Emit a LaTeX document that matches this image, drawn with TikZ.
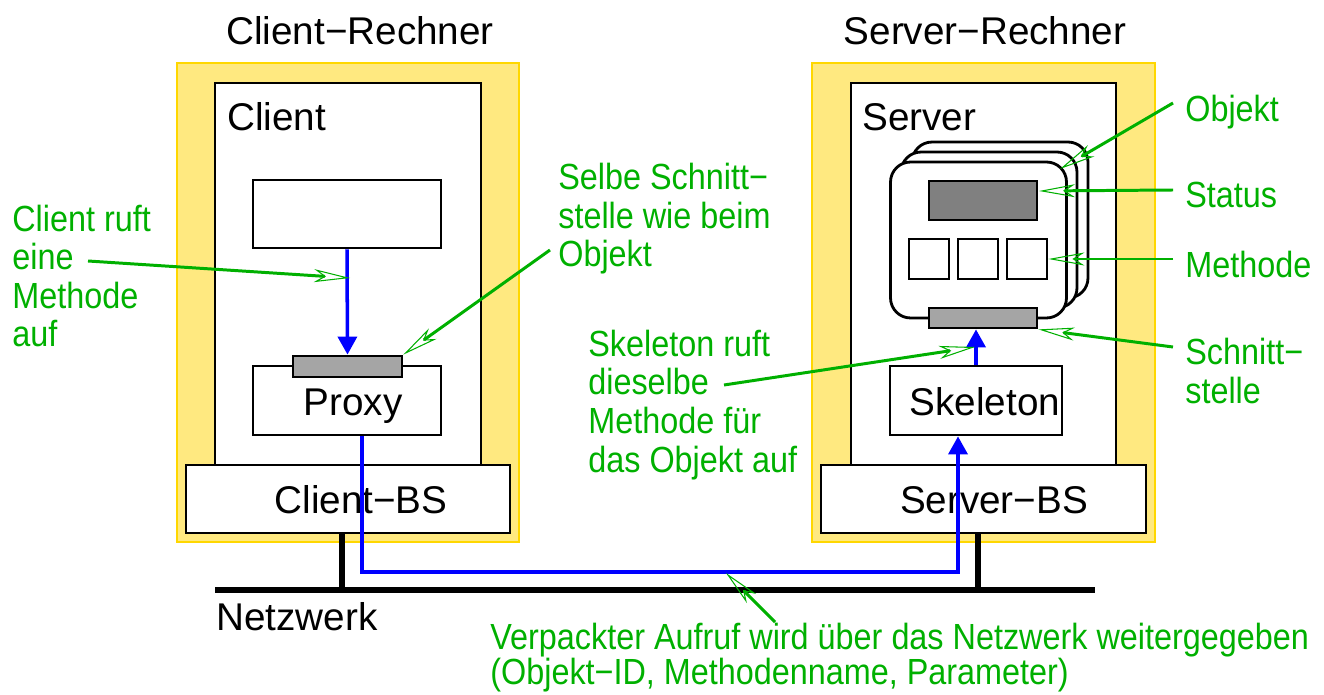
\documentclass[tikz,border=0pt]{standalone}
\usepackage{fontspec}
\setmainfont{Liberation Sans}
\newfontfamily\narrowsans[FakeStretch=0.89]{Liberation Sans}
\usetikzlibrary{arrows.meta}
\usetikzlibrary{positioning}

\definecolor{hostyellow}{RGB}{255,233,128}
\definecolor{hostedge}{RGB}{255,215,0}
\definecolor{notegreen}{RGB}{0,176,0}
\definecolor{darkgrey}{RGB}{128,128,128}
\definecolor{lightgrey}{RGB}{165,165,165}

\tikzset{
  host/.style={draw=hostedge,fill=hostyellow,line width=0.8pt,inner sep=0pt},
  box/.style={draw,fill=white,line width=1.6pt,inner sep=0pt},
  plate/.style={box,fill=lightgrey},
  objbox/.style={box,rounded corners=0.4cm,minimum width=3.52cm,minimum height=3.12cm},
  lan/.style={line width=3.2pt},
  call/.style={blue,line width=2pt,-{Triangle[length=0.36cm,width=0.38cm]}},
  note/.style={notegreen,line width=1.7pt,-{Stealth[open,length=0.72cm,width=0.26cm,inset=0.2cm,line width=0.6pt]}},
  notetext/.style={text=notegreen,font=\narrowsans\fontsize{20.7}{22}\selectfont,anchor=base west,align=left,inner sep=0pt},
  boxtext/.style={font=\fontsize{22}{26}\selectfont,anchor=base,inner sep=0pt}
}

\begin{document}
\begin{tikzpicture}[x=0.02cm,y=-0.02cm]
\useasboundingbox (0,0) rectangle (1324,695);

% client side
\node[host,minimum width=6.84cm,minimum height=9.58cm] (chost) at (348,302.5) {};
\node[box,minimum width=5.32cm,minimum height=7.64cm] (cproc) at (348,274) {};
\node[box,minimum width=6.48cm,minimum height=1.36cm] (cbs) at (348,499) {};
\node[box,minimum width=3.76cm,minimum height=1.36cm] (caller) at (347,214) {};
\node[box,minimum width=3.76cm,minimum height=1.38cm] (proxy) at (347,400.5) {};
\node[plate,minimum width=2.18cm,minimum height=0.42cm] (pif) at (347.5,366.5) {};

% server side
\node[host,minimum width=6.86cm,minimum height=9.58cm] (shost) at (983.5,302.5) {};
\node[box,minimum width=5.30cm,minimum height=7.64cm] (sproc) at (983.5,274) {};
\node[box,minimum width=6.50cm,minimum height=1.36cm] (sbs) at (983.5,499) {};
\node[objbox] (obj3) at (1000,220) {};
\node[objbox] (obj2) at (989,230) {};
\node[objbox] (obj1) at (978.5,240) {};
\node[box,fill=darkgrey,minimum width=2.16cm,minimum height=0.78cm] (status) at (983,200.5) {};
\foreach \i/\x in {1/929,2/978,3/1027}
  \node[box,minimum size=0.8cm] (m\i) at (\x,259) {};
\node[plate,minimum width=2.16cm,minimum height=0.40cm] (sif) at (983,318) {};
\node[box,minimum width=3.44cm,minimum height=1.38cm] (skel) at (976,400.5) {};

% texts
\node[boxtext] (cname) at (360,45) {Client−Rechner};
\node[boxtext] (sname) at (985,45) {Server−Rechner};
\node[boxtext,anchor=base west] (ctitle) at (227,131) {Client};
\node[boxtext,anchor=base west] (stitle) at (862,131) {Server};
\node[boxtext] (ptext) at (353,416) {Proxy};
\node[boxtext] (sktext) at (985,416) {Skeleton};
\node[boxtext] (cbstext) at (361,513) {Client−BS};
\node[boxtext] (sbstext) at (994,513) {Server−BS};
\node[boxtext,anchor=base west] (nettext) at (216,630) {Netzwerk};

% network
\coordinate (netw) at (215,590);
\coordinate (nete) at (1095,590);
\coordinate (cjoin) at (342,590);
\coordinate (sjoin) at (978,590);
\draw[lan] (netw) -- (nete);
\draw[lan] (cbs.south -| cjoin) -- (cjoin);
\draw[lan] (sbs.south -| sjoin) -- (sjoin);

% calls
\coordinate (wirea) at (362,572);
\coordinate (wireb) at (958,572);
\draw[call] (caller.south) -- (pif.north);
\draw[call] (proxy.south -| wirea) -- (wirea) -- (wireb) -- (skel.south -| wireb);
\draw[call] (skel.north) -- (skel.north |- sif.south);

% notes (base = last line)
\node[notetext] (ncall) at (12,347) {Client ruft\\eine\\Methode\\auf};
\node[notetext] (nsame) at (558,267) {Selbe Schnitt−\\stelle wie beim\\Objekt};
\node[notetext] (nskel) at (588,472) {Skeleton ruft\\dieselbe\\Methode für\\das Objekt auf};
\node[notetext] (nobj) at (1185,122) {Objekt};
\node[notetext] (nstat) at (1185,208) {Status};
\node[notetext] (nmeth) at (1185,278) {Methode};
\node[notetext] (nif) at (1185,403) {Schnitt−\\stelle};
\node[notetext,font=\narrowsans\fontsize{20.7}{19.8}\selectfont] (nwire) at (490,684)
  {Verpackter Aufruf wird über das Netzwerk weitergegeben\\(Objekt−ID, Methodenname, Parameter)};

\coordinate (scall) at (88,261);
\coordinate (tcall) at (350,278);
\coordinate (ssame) at (550,250);
\coordinate (sskel) at (724,385);
\coordinate (tskel) at (975,347);
\coordinate (sobj) at (1173,103);
\coordinate (tobj) at (1060,169);
\coordinate (sstat) at (1173,190);
\coordinate (tstat) at (1039,191);
\coordinate (smeth) at (1173,259);
\coordinate (sif2) at (1173,347);
\coordinate (swire) at (775,622);
\coordinate (twire) at (726,573);
\draw[note] (scall) -- (tcall);
\draw[note] (ssame) -- (pif.north east);
\draw[note] (sskel) -- (tskel);
\draw[note] (sobj) -- (tobj);
\draw[note] (sstat) -- (tstat);
\draw[note] (smeth) -- (m3.east);
\draw[note] (sif2) -- (sif.south east);
\draw[note] (swire) -- (twire);

\end{tikzpicture}
\end{document}
